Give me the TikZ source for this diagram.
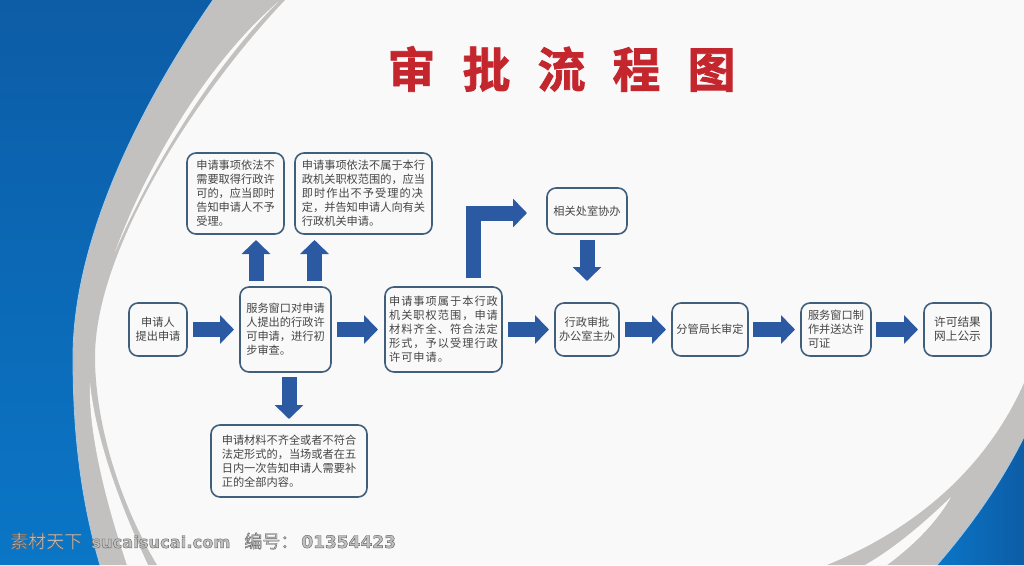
\documentclass[tikz,border=0pt]{standalone}
\usepackage{fontspec}
\setmainfont{Noto Sans CJK SC}
\newfontfamily\titlefont[FakeBold=1.6]{Noto Sans CJK SC Bold}
\newfontfamily\wmfont{Noto Sans CJK SC}
\newfontfamily\wmlatin{DejaVu Sans Bold}
\newfontfamily\spacedfont[LetterSpace=9]{Noto Sans CJK SC}
\usetikzlibrary{arrows.meta}
\definecolor{pagebg}{HTML}{F9F9FA}
\definecolor{bandgray}{HTML}{C2C1BF}
\definecolor{bluedark}{HTML}{0D5CA6}
\definecolor{bluelight}{HTML}{0A76C6}
\definecolor{edgeblue}{HTML}{A9CDE8}
\definecolor{boxline}{HTML}{3F5F7C}
\definecolor{arrowblue}{HTML}{2C5AA2}
\definecolor{bodytext}{HTML}{454545}
\definecolor{titlered}{HTML}{C4262E}
\definecolor{wmfill}{HTML}{C0C0C0}
\tikzset{
  boxnode/.style={draw=boxline, line width=1.6pt, fill=pagebg, rounded corners=9pt,
    outer sep=0pt, inner sep=0pt, align=left, text=bodytext,
    font=\fontsize{11.2}{14}\selectfont},
  blk/.style={draw=arrowblue, line width=15pt, line join=miter,
    -{Triangle[length=14pt,width=28pt]}},
}
\begin{document}
\begin{tikzpicture}[x=1pt,y=-1pt]
\clip (0,0) rectangle (1024,565);
\fill[pagebg] (0,0) rectangle (1024,565);
% left band
\fill[bandgray] (285,0) .. controls (195,95) and (95,250) .. (95,357) .. controls (95,420) and (118,500) .. (157,565) -- (0,565) -- (0,0) -- cycle;
\shade[top color=bluedark, bottom color=bluelight] (213,0) .. controls (140,105) and (73,240) .. (73,357) .. controls (73,420) and (78,490) .. (100,565) -- (0,565) -- (0,0) -- cycle;
\draw[edgeblue, line width=.8pt] (213,0) .. controls (140,105) and (73,240) .. (73,357) .. controls (73,420) and (78,490) .. (100,565);
\fill[pagebg] (278,2) .. controls (205,65) and (145,170) .. (115,252) .. controls (152,165) and (215,65) .. (278,2) -- cycle;
\fill[pagebg] (90,383) .. controls (88,430) and (105,500) .. (127,565) -- (148,565) .. controls (113,490) and (95,430) .. (90,383) -- cycle;
% right band
\fill[bandgray] (1024,383) .. controls (990,460) and (925,525) .. (827,565) -- (1024,565) -- cycle;
\shade[left color=bluelight, right color=bluedark] (1024,437) .. controls (1000,485) and (970,527) .. (937,565) -- (1024,565) -- cycle;
\draw[edgeblue, line width=.8pt] (1024,437) .. controls (1000,485) and (970,527) .. (937,565);
\fill[pagebg] (951,497) .. controls (925,522) and (895,548) .. (865,565) -- (887,565) .. controls (910,548) and (935,525) .. (951,497) -- cycle;
% title
\node[text=titlered, font=\titlefont\fontsize{48}{48}\selectfont, inner sep=0pt] (title) at (561.5,69) {审\hspace{27pt}批\hspace{27pt}流\hspace{27pt}程\hspace{27pt}图};
% boxes
\node[boxnode, minimum width=58pt, minimum height=53pt, align=center] (apply) at (158,329.5) {申请人\\提出申请};
\node[boxnode, minimum width=91pt, minimum height=85pt] (window) at (285.5,329.5) {服务窗口对申请\\人提出的行政许\\可申请，进行初\\步审查。};
\node[boxnode, minimum width=117pt, minimum height=85pt, font=\spacedfont\fontsize{11.2}{14}\selectfont] (accept) at (443.5,329.5) {申请事项属于本行政\\机关职权范围，申请\\材料齐全、符合法定\\形式，予以受理行政\\许可申请。};
\node[boxnode, minimum width=97pt, minimum height=81pt] (noneed) at (235.5,193.5) {申请事项依法不\\需要取得行政许\\可的，应当即时\\告知申请人不予\\受理。};
\node[boxnode, minimum width=137pt, minimum height=81pt] (reject) at (363.5,193.5) {申请事项依法不属于本行\\政机关职权范围的，应当\\{\spacedfont 即时作出不予受理的决}\\定，并告知申请人向有关\\行政机关申请。};
\node[boxnode, minimum width=156pt, minimum height=72pt] (incomplete) at (289,461) {申请材料不齐全或者不符合\\法定形式的，当场或者在五\\日内一次告知申请人需要补\\正的全部内容。};
\node[boxnode, minimum width=80pt, minimum height=46pt] (assist) at (587,211) {相关处室协办};
\node[boxnode, minimum width=64pt, minimum height=53pt, align=center] (office) at (587,329.5) {行政审批\\办公室主办};
\node[boxnode, minimum width=76pt, minimum height=53pt] (chief) at (710,329.5) {分管局长审定};
\node[boxnode, minimum width=70pt, minimum height=53pt] (deliver) at (836,329.5) {服务窗口制\\作并送达许\\可证};
\node[boxnode, minimum width=67pt, minimum height=53pt, align=center, font=\fontsize{11.7}{14}\selectfont] (publish) at (957.5,329.5) {许可结果\\网上公示};
% connectors
\coordinate (upa) at (256,260);
\coordinate (upb) at (314.5,260);
\coordinate (bend) at (473.5,213);
\draw[blk, shorten <=6pt, shorten >=6pt] (apply.east) -- (window.west);
\draw[blk, shorten <=6pt, shorten >=7pt] (window.east) -- (accept.west);
\draw[blk, shorten <=6pt, shorten >=6pt] (accept.east) -- (office.west);
\draw[blk, shorten <=6pt, shorten >=6pt] (office.east) -- (chief.west);
\draw[blk, shorten <=5pt, shorten >=6pt] (chief.east) -- (deliver.west);
\draw[blk, shorten <=5pt, shorten >=6pt] (deliver.east) -- (publish.west);
\draw[blk, shorten <=6pt, shorten >=6pt] (upa |- window.north) -- (upa |- noneed.south);
\draw[blk, shorten <=6pt, shorten >=6pt] (upb |- window.north) -- (upb |- noneed.south);
\draw[blk, shorten <=5pt, shorten >=6pt] (incomplete.north |- window.south) -- (incomplete.north);
\draw[blk, shorten <=6pt, shorten >=22pt] (assist.south) -- (office.north);
\coordinate (bendend) at (assist.west |- bend);
\draw[blk, shorten <=9pt, shorten >=20pt] (bend |- accept.north) -- (bend) -- (bendend);
% watermark
\node[anchor=west, inner sep=0pt, text=wmfill, font=\wmfont\fontsize{18}{18}\selectfont] (mark) at (10,541) {\special{pdf:literal direct 2 Tr 0.4 w 0.38 0.38 0.38 RG}素材天下\hspace{9pt}{\wmlatin\fontsize{16.3}{18}\selectfont sucaisucai.com}\hspace{14pt}编号：\hspace{3pt}{\wmlatin\fontsize{17}{18}\selectfont 01354423}\special{pdf:literal direct 0 Tr}};
\end{tikzpicture}
\end{document}
